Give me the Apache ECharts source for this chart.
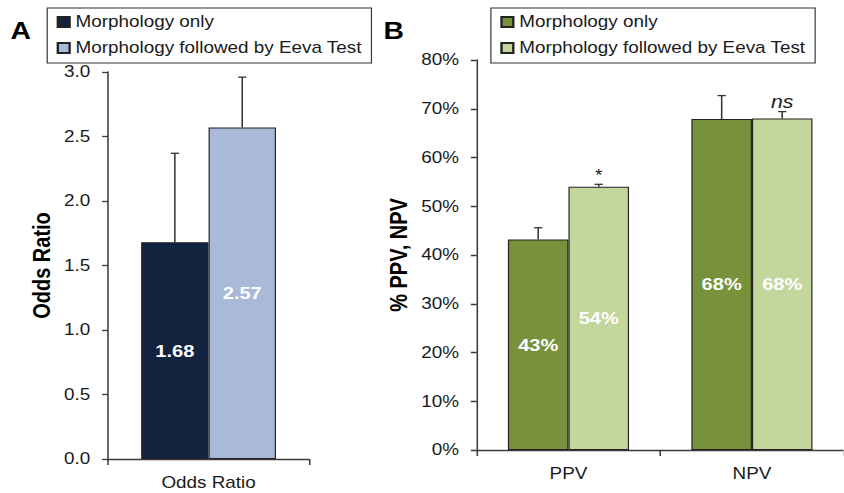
<!DOCTYPE html>
<html>
<head>
<meta charset="utf-8">
<script src="https://cdn.jsdelivr.net/npm/echarts@6/dist/echarts.min.js"></script>
<style>
  html, body { margin: 0; padding: 0; background: #fff; overflow: hidden; }
  /* the source figure is stretched horizontally, so the charts are too */
  #wrap { position: absolute; left: 0; top: 0; width: 715px; height: 493px; transform: scaleX(1.18); transform-origin: 0 0; }
  #chart-a { position: absolute; left: 0; top: 0; width: 320px; height: 493px; }
  #chart-b { position: absolute; left: 320px; top: 0; width: 395px; height: 493px; }
</style>
</head>
<body>
<div id="wrap">
  <div id="chart-a"></div>
  <div id="chart-b"></div>
</div>
<script>
var seriesNames = ['Morphology only', 'Morphology followed by Eeva Test'];

// panel A: odds ratio
var oddsCategories = ['Odds Ratio'];
var oddsMorph = [1.68];
var oddsMorphErr = [2.37];
var oddsEeva = [2.57];
var oddsEevaErr = [2.96];
var oddsTicks = [0, 0.5, 1.0, 1.5, 2.0, 2.5, 3.0];

// panel B: PPV / NPV (%)
var pvCategories = ['PPV', 'NPV'];
var pvMorph = [43.2, 67.9];
var pvMorphErr = [45.6, 72.7];
var pvEeva = [54.0, 68.0];
var pvEevaErr = [54.5, 69.4];
var pvEevaMarks = ['*', 'ns'];
var pvTicks = [0, 10, 20, 30, 40, 50, 60, 70, 80];

var font = "'Liberation Sans', Arial, sans-serif";
var ink = '#1a1a1a';
var axisColor = '#3a3a3a';

function errorSeries(name, vals, errs, side, gap, marks) {
  return {
    type: 'custom',
    name: name,
    z: 5,
    silent: true,
    data: vals.map(function(v, i) { return [i, v, errs[i]]; }),
    renderItem: function(params, api) {
      var band = api.size([1, 0])[0];
      var barW = band * (1 - gap) / 2;
      var base = api.coord([api.value(0), api.value(1)]);
      var top = api.coord([api.value(0), api.value(2)]);
      var cx = base[0] + side * barW / 2;
      var ls = { stroke: '#333', lineWidth: 1.3 };
      var kids = [
        { type: 'line', shape: { x1: cx, y1: base[1], x2: cx, y2: top[1] }, style: ls },
        { type: 'line', shape: { x1: cx - 3.5, y1: top[1], x2: cx + 3.5, y2: top[1] }, style: ls }
      ];
      var m = marks && marks[params.dataIndex];
      if (m) {
        var italic = m === 'ns';
        kids.push({
          type: 'text',
          style: {
            text: m, x: cx, y: top[1] - 1, align: 'center', verticalAlign: 'bottom',
            fill: ink, fontSize: italic ? 18 : 16, fontFamily: font, fontStyle: italic ? 'italic' : 'normal'
          }
        });
      }
      return { type: 'group', children: kids };
    }
  };
}

function barSeries(name, vals, color, fmt) {
  return {
    type: 'bar',
    name: name,
    data: vals,
    itemStyle: { color: color, borderColor: '#222', borderWidth: 1 },
    label: {
      show: true, position: 'inside', color: '#fff', fontWeight: 'bold',
      fontSize: 17, fontFamily: font, formatter: fmt
    }
  };
}

function legendOpt(left) {
  return {
    data: seriesNames,
    orient: 'vertical',
    left: left,
    top: 8,
    padding: [6, 8, 7, 8],
    itemGap: 10,
    itemWidth: 10,
    itemHeight: 10,
    icon: 'rect',
    borderColor: '#333',
    borderWidth: 1,
    textStyle: { color: ink, fontSize: 16, fontFamily: font }
  };
}

function valueAxis(min, max, interval, fmt, name, gap) {
  return {
    type: 'value',
    min: min, max: max, interval: interval,
    name: name,
    nameLocation: 'middle',
    nameGap: gap,
    nameMoveOverlap: false,
    nameTextStyle: { color: '#000', fontSize: 20, fontWeight: 'bold', fontFamily: font },
    splitLine: { show: false },
    axisLine: { show: true, lineStyle: { color: axisColor, width: 1.3 } },
    axisTick: { show: true, length: 5, lineStyle: { color: axisColor, width: 1.3 } },
    axisLabel: { color: ink, fontSize: 16, fontFamily: font, margin: 15, formatter: fmt }
  };
}

function catAxis(cats) {
  return {
    type: 'category',
    data: cats,
    axisLine: { lineStyle: { color: axisColor, width: 1.3 } },
    axisTick: { show: true, length: 6, interval: 0, lineStyle: { color: axisColor, width: 1.3 } },
    axisLabel: { color: ink, fontSize: 16, fontFamily: font, margin: 16 }
  };
}

var gapA = 0.33;
var chartA = echarts.init(document.getElementById('chart-a'), null, { renderer: 'svg' });
chartA.setOption({
  animation: false,
  title: { text: 'A', left: 9, top: 19, padding: 0, textStyle: { fontSize: 24, fontWeight: 'bold', color: '#000', fontFamily: font } },
  legend: legendOpt(40),
  grid: { left: 91.5, right: 58, top: 72, bottom: 34 },
  xAxis: catAxis(oddsCategories),
  yAxis: valueAxis(oddsTicks[0], oddsTicks[oddsTicks.length - 1], 0.5,
    function(v) { return v.toFixed(1); }, 'Odds Ratio', 46),
  series: [
    Object.assign(barSeries(seriesNames[0], oddsMorph, '#12233f', function(p) { return p.value.toFixed(2); }),
      { barGap: '0%', barCategoryGap: (gapA * 100) + '%' }),
    barSeries(seriesNames[1], oddsEeva, '#a9b9d8', function(p) { return p.value.toFixed(2); }),
    errorSeries('errA0', oddsMorph, oddsMorphErr, -1, gapA),
    errorSeries('errA1', oddsEeva, oddsEevaErr, 1, gapA)
  ]
});

var gapB = 0.34;
var chartB = echarts.init(document.getElementById('chart-b'), null, { renderer: 'svg' });
chartB.setOption({
  animation: false,
  title: { text: 'B', left: 5, top: 19, padding: 0, textStyle: { fontSize: 24, fontWeight: 'bold', color: '#000', fontFamily: font } },
  legend: legendOpt(96),
  grid: { left: 76.6, right: -2, top: 60, bottom: 43 },
  xAxis: catAxis(pvCategories),
  yAxis: valueAxis(pvTicks[0], pvTicks[pvTicks.length - 1], 10,
    function(v) { return v + '%'; }, '% PPV, NPV', 56),
  series: [
    Object.assign(barSeries(seriesNames[0], pvMorph, '#77923b', function(p) { return Math.round(p.value) + '%'; }),
      { barGap: '0%', barCategoryGap: (gapB * 100) + '%' }),
    barSeries(seriesNames[1], pvEeva, '#c3d69b', function(p) { return Math.round(p.value) + '%'; }),
    errorSeries('errB0', pvMorph, pvMorphErr, -1, gapB),
    errorSeries('errB1', pvEeva, pvEevaErr, 1, gapB, pvEevaMarks)
  ]
});

window.addEventListener('resize', function() { chartA.resize(); chartB.resize(); });
</script>
</body>
</html>
